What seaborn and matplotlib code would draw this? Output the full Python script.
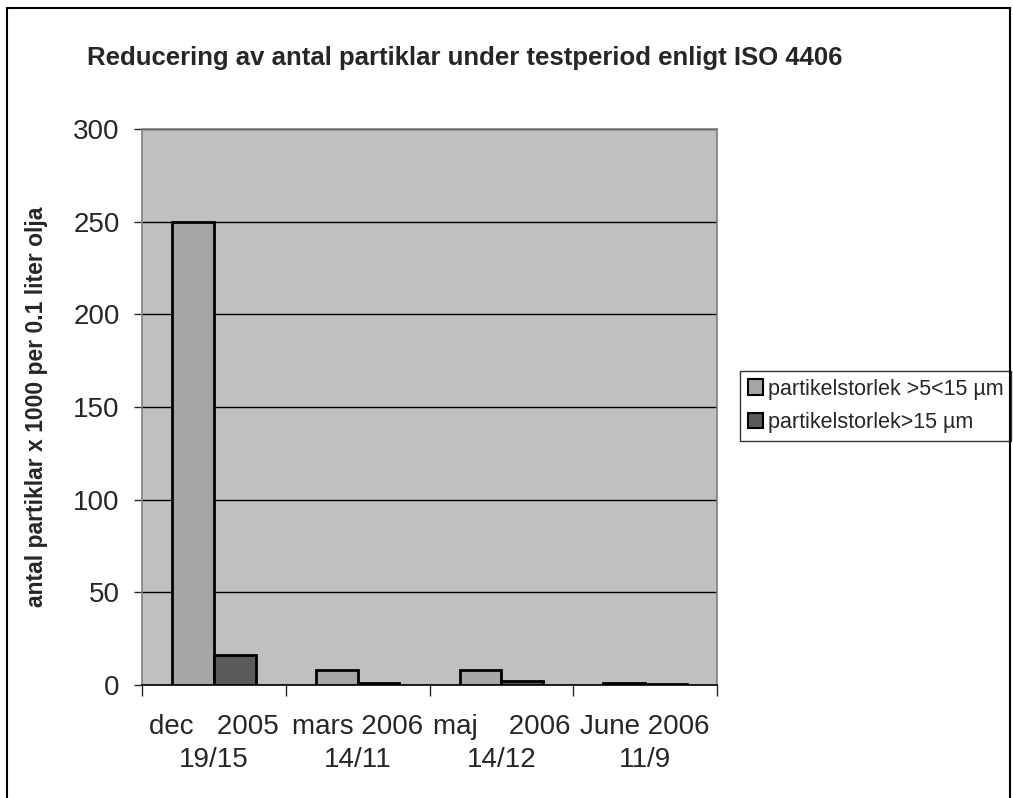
import pandas as pd
import numpy as np
import matplotlib.pyplot as plt
import seaborn as sns
from matplotlib.patches import Rectangle
from matplotlib.ticker import FixedLocator

categories = ["dec   2005\n19/15", "mars 2006\n14/11", "maj    2006\n14/12", "June 2006\n11/9"]
series_names = ["partikelstorlek >5<15 µm", "partikelstorlek>15 µm"]
small_particles = [250, 8, 8, 1]
large_particles = [16, 1, 2, 0.5]
yticks = [0, 50, 100, 150, 200, 250, 300]

df = pd.DataFrame({
    "period": categories * 2,
    "serie": [series_names[0]] * 4 + [series_names[1]] * 4,
    "antal": small_particles + large_particles,
})

sns.set_style("white")
plt.rcParams["font.family"] = ["Liberation Sans", "DejaVu Sans"]

fig = plt.figure(figsize=(10.13, 7.98), dpi=100)
ax = fig.add_axes([142 / 1013, 1 - 685 / 798, 575 / 1013, 556 / 798])
ax.set_facecolor("#C0C0C0")

sns.barplot(data=df, x="period", y="antal", hue="serie",
            palette=["#A6A6A6", "#5A5A5A"], width=0.58,
            edgecolor="black", linewidth=2, ax=ax, zorder=3)

ax.set_ylim(0, 300)
ax.set_xlim(-0.5, 3.5)
ax.set_yticks(yticks)
ax.yaxis.grid(True, color="black", linewidth=1, zorder=0)
ax.set_axisbelow(True)
ax.tick_params(axis="y", labelsize=20, length=6, width=1, direction="out", left=True, pad=10)
ax.tick_params(axis="x", which="major", labelsize=20, length=0, pad=21)
for t in ax.get_xticklabels():
    t.set_linespacing(1.35)
ax.xaxis.set_minor_locator(FixedLocator([-0.5, 0.5, 1.5, 2.5, 3.5]))
ax.tick_params(axis="x", which="minor", length=8, width=1, direction="out", bottom=True)
ax.set_xlabel("")
ax.set_ylabel("antal partiklar x 1000 per 0.1 liter olja", fontsize=16.5, fontweight="bold", labelpad=18)
for s in ax.spines.values():
    s.set_color("#808080")
    s.set_linewidth(1.2)
ax.spines["bottom"].set_color("black")

fig.text(465 / 1013, 1 - 58 / 798, "Reducering av antal partiklar under testperiod enligt ISO 4406",
         ha="center", va="center", fontsize=18.5, fontweight="bold")

leg = ax.legend(loc="center left", bbox_to_anchor=(740 / 1013, 1 - 406 / 798),
                bbox_transform=fig.transFigure, fontsize=15.5, frameon=True,
                fancybox=False, handlelength=0.7, handleheight=0.7, handletextpad=0.25,
                borderpad=0.35, labelspacing=0.6, borderaxespad=0)
leg.get_frame().set_edgecolor("black")
leg.get_frame().set_linewidth(1)
for h in leg.legend_handles:
    h.set_linewidth(1.5)

fig.patches.append(Rectangle((7 / 1013, -0.05), 1003 / 1013, 1.05 - 8 / 798,
                             transform=fig.transFigure, fill=False,
                             edgecolor="black", linewidth=1.5))

fig.savefig("out.png", dpi=100)
